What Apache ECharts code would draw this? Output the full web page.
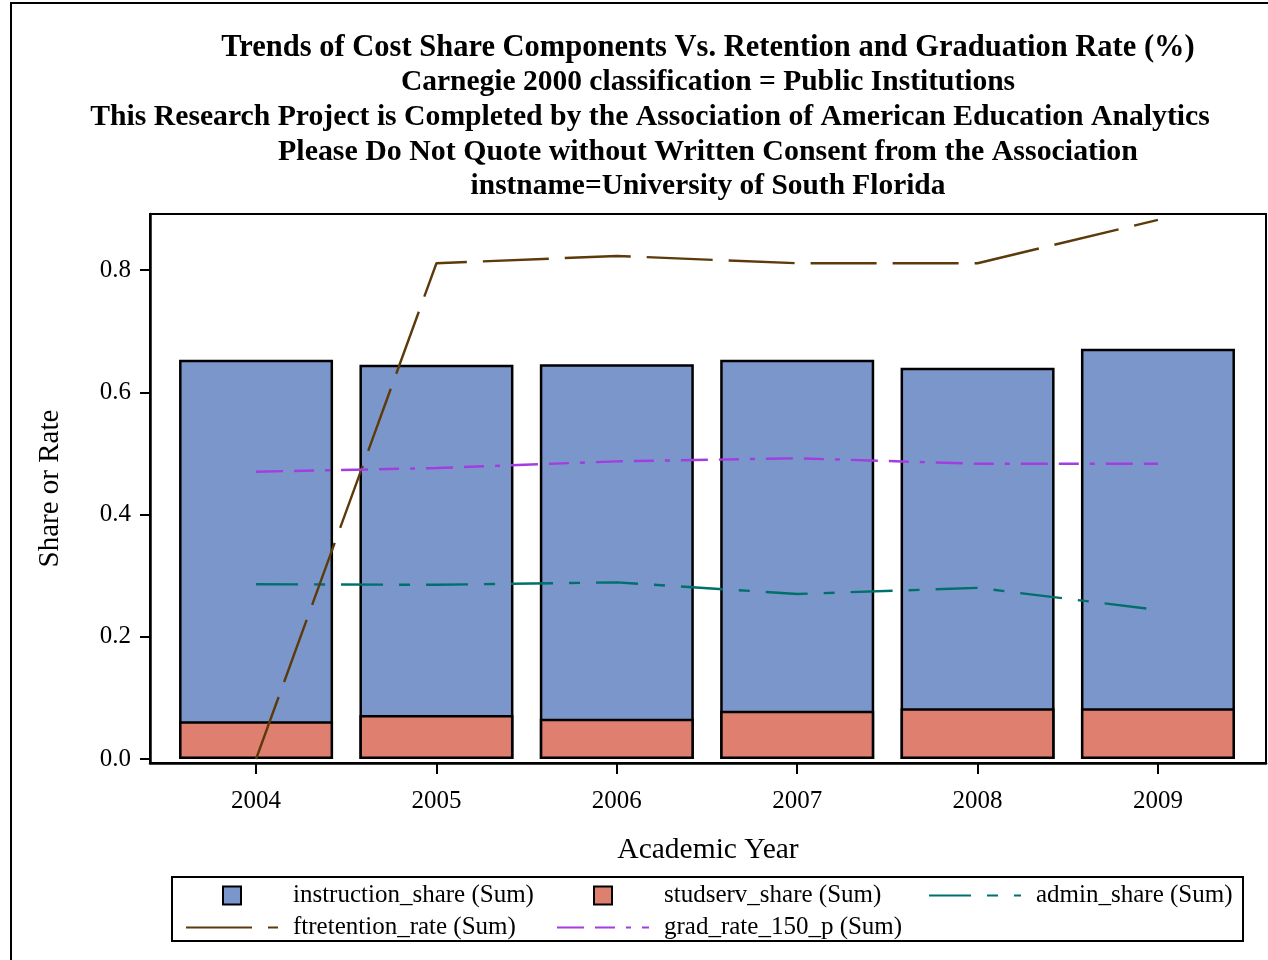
<!DOCTYPE html>
<html>
<head>
<meta charset="utf-8">
<script src="https://cdn.jsdelivr.net/npm/echarts@6/dist/echarts.min.js"></script>
<style>
html,body{margin:0;padding:0;background:#fff;}
#chart{width:1268px;height:960px;}
</style>
</head>
<body>
<div id="chart"></div>
<script>
const years = [2004, 2005, 2006, 2007, 2008, 2009];
const instructionShare = [0.653, 0.645, 0.646, 0.653, 0.640, 0.671];
const studservShare = [0.062, 0.072, 0.066, 0.079, 0.083, 0.083];
const adminShare = [0.286, 0.285, 0.289, 0.270, 0.280, 0.244];
const ftretentionRate = [0.0, 0.811, 0.823, 0.811, 0.811, 0.882];
const gradRate150 = [0.470, 0.476, 0.487, 0.492, 0.483, 0.483];
const yTicks = [0, 0.2, 0.4, 0.6, 0.8];
const titleLines = [
  'Trends of Cost Share Components Vs. Retention and Graduation Rate (%)',
  'Carnegie 2000 classification = Public Institutions',
  'This Research Project is Completed by the Association of American Education Analytics',
  'Please Do Not Quote without Written Consent from the Association',
  'instname=University of South Florida'
];

const FONT = '"Liberation Serif", "Times New Roman", serif';
const pair = arr => years.map((y, i) => [y, arr[i]]);

const chart = echarts.init(document.getElementById('chart'));

const titleX = [708, 708, 650, 708, 708];
const titleSize = [30.5, 29.5, 29.7, 29.9, 29.4];
const titleGraphics = titleLines.map((t, i) => ({
  type: 'text',
  x: titleX[i],
  y: 48 + i * 34.6,
  style: {
    text: t,
    fill: '#000',
    font: 'bold ' + titleSize[i] + 'px ' + FONT,
    textAlign: 'center',
    textVerticalAlign: 'middle'
  }
}));

const legendBase = {
  orient: 'horizontal',
  itemGap: 0,
  padding: 0,
  selectedMode: false
};
const barLegendText = { fontFamily: FONT, fontSize: 25, color: '#000', padding: [0, 0, 0, 47] };
const lineLegendText = { fontFamily: FONT, fontSize: 25, color: '#000', padding: [0, 0, 0, 10] };

const option = {
  animation: false,
  backgroundColor: '#fff',
  grid: {
    left: 150, right: 2, top: 214, bottom: 197,
    show: true, borderColor: '#000', borderWidth: 2, backgroundColor: 'transparent'
  },
  xAxis: {
    type: 'value',
    min: 2003.412,
    max: 2009.599,
    name: 'Academic Year',
    nameLocation: 'middle',
    nameGap: 72,
    nameTextStyle: { fontFamily: FONT, fontSize: 29.5, color: '#000' },
    axisLine: { show: true, onZero: false, lineStyle: { color: '#000', width: 2.5 } },
    axisTick: { show: true, length: 11, lineStyle: { color: '#000', width: 2 }, customValues: years },
    axisLabel: { fontFamily: FONT, fontSize: 25, color: '#000', margin: 26, customValues: years, formatter: v => String(v) },
    splitLine: { show: false }
  },
  yAxis: {
    type: 'value',
    min: -0.0065,
    max: 0.8916,
    name: 'Share or Rate',
    nameLocation: 'middle',
    nameGap: 85,
    nameTextStyle: { fontFamily: FONT, fontSize: 29, color: '#000' },
    axisLine: { show: true, onZero: false, lineStyle: { color: '#000', width: 2.5 } },
    axisTick: { show: true, length: 10, lineStyle: { color: '#000', width: 2 }, customValues: yTicks },
    axisLabel: { fontFamily: FONT, fontSize: 25, color: '#000', margin: 19, customValues: yTicks, formatter: v => v.toFixed(1) },
    splitLine: { show: false }
  },
  legend: [
    Object.assign({}, legendBase, { data: ['instruction_share (Sum)'], left: 222, top: 883, itemWidth: 18, itemHeight: 18, icon: 'rect', textStyle: barLegendText }),
    Object.assign({}, legendBase, { data: ['studserv_share (Sum)'], left: 593, top: 883, itemWidth: 18, itemHeight: 18, icon: 'rect', textStyle: barLegendText }),
    Object.assign({}, legendBase, { data: ['admin_share (Sum)'], left: 928, top: 883, itemWidth: 92, itemHeight: 18, itemStyle: { opacity: 0 }, textStyle: lineLegendText }),
    Object.assign({}, legendBase, { data: ['ftretention_rate (Sum)'], left: 185, top: 915, itemWidth: 92, itemHeight: 18, itemStyle: { opacity: 0 }, textStyle: lineLegendText }),
    Object.assign({}, legendBase, { data: ['grad_rate_150_p (Sum)'], left: 556, top: 915, itemWidth: 92, itemHeight: 18, itemStyle: { opacity: 0 }, textStyle: lineLegendText })
  ],
  graphic: titleGraphics.concat([
    { type: 'rect', shape: { x: 11, y: 3, width: 1300, height: 1000 }, style: { fill: 'none', stroke: '#000', lineWidth: 2 }, silent: true, z: -10 },
    { type: 'rect', shape: { x: 172, y: 877, width: 1071, height: 64 }, style: { fill: 'none', stroke: '#000', lineWidth: 2 }, silent: true }
  ]),
  series: [
    {
      name: 'instruction_share (Sum)',
      type: 'bar',
      data: pair(instructionShare),
      barWidth: 154,
      barGap: '-100%',
      itemStyle: { color: '#7b96cb', borderColor: '#000', borderWidth: 2.5 },
      z: 1
    },
    {
      name: 'studserv_share (Sum)',
      type: 'bar',
      data: pair(studservShare),
      barWidth: 154,
      barGap: '-100%',
      itemStyle: { color: '#df7f70', borderColor: '#000', borderWidth: 2.5 },
      z: 2
    },
    {
      name: 'admin_share (Sum)',
      type: 'line',
      data: pair(adminShare),
      symbol: 'none',
      lineStyle: { color: '#00706a', width: 2.4, type: [42, 16, 11, 16] },
      itemStyle: { color: '#00706a' },
      z: 5
    },
    {
      name: 'ftretention_rate (Sum)',
      type: 'line',
      data: pair(ftretentionRate),
      symbol: 'none',
      lineStyle: { color: '#5c3a0a', width: 2.4, type: [66, 16] },
      itemStyle: { color: '#5c3a0a' },
      z: 5
    },
    {
      name: 'grad_rate_150_p (Sum)',
      type: 'line',
      data: pair(gradRate150),
      symbol: 'none',
      lineStyle: { color: '#a23de0', width: 2.4, type: [27, 11, 20, 11, 5, 11] },
      itemStyle: { color: '#a23de0' },
      z: 5
    }
  ]
};

chart.setOption(option);
</script>
</body>
</html>
